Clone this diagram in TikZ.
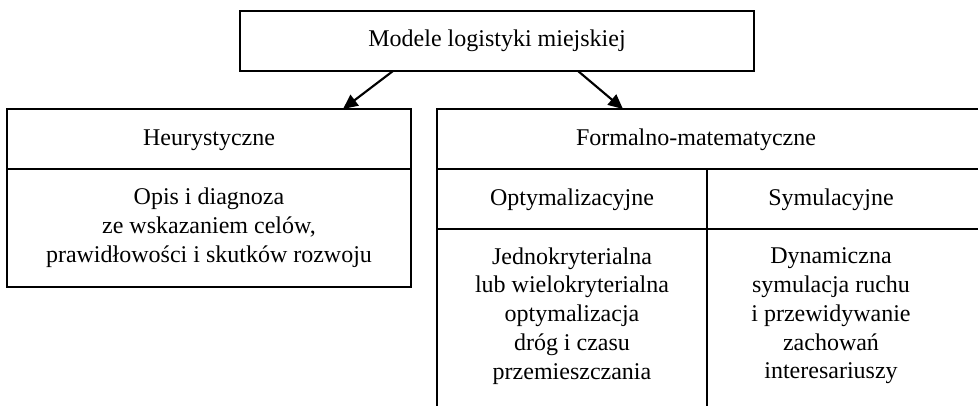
\documentclass[tikz,border=0pt]{standalone}
\usepackage{fontspec}
\setmainfont{Liberation Serif}
\usetikzlibrary{arrows.meta}
\begin{document}
\begin{tikzpicture}[x=0.75pt,y=-0.75pt,
  lbl/.style={inner sep=0pt,align=center,font=\fontsize{18}{21.6}\selectfont},
  frame/.style={line width=1.6pt,line cap=rect},
  arr/.style={line width=1.6pt,-{Triangle[length=11pt,width=10pt]}}]
\useasboundingbox (0,0) rectangle (978,406);
% top box
\node[draw,line width=1.6pt,minimum width=514*0.75pt,minimum height=60*0.75pt,inner sep=0pt] (top) at (497,41) {};
\node[lbl] (toptxt) at (497,41) {Modele logistyki miejskiej};
% arrows
\coordinate (a1s) at (393,71);
\coordinate (a1e) at (343,109);
\coordinate (a2s) at (578,71);
\coordinate (a2e) at (623,109);
\draw[arr] (a1s) -- (a1e);
\draw[arr] (a2s) -- (a2e);
% left box
\draw[frame] (7,109) rectangle (411,287);
\draw[frame] (7,169) -- (411,169);
\node[lbl] (heur) at (209,140) {Heurystyczne};
\node[lbl] (heurbody) at (209,228) {Opis i diagnoza\\ze wskazaniem celów,\\prawidłowości i skutków rozwoju};
% right box (cut at picture edge)
\draw[frame] (980,109) -- (437,109) -- (437,408);
\draw[frame] (437,169) -- (980,169);
\draw[frame] (437,229) -- (980,229);
\draw[frame] (707,169) -- (707,408);
\node[lbl] (form) at (696,140) {Formalno-matematyczne};
\node[lbl] (opt) at (572,200) {Optymalizacyjne};
\node[lbl] (sym) at (831,200) {Symulacyjne};
\node[lbl] (optbody) at (572,316) {Jednokryterialna\\lub wielokryterialna\\optymalizacja\\dróg i czasu\\przemieszczania};
\node[lbl] (symbody) at (831,316) {Dynamiczna\\symulacja ruchu\\i przewidywanie\\zachowań\\interesariuszy};
\end{tikzpicture}
\end{document}
